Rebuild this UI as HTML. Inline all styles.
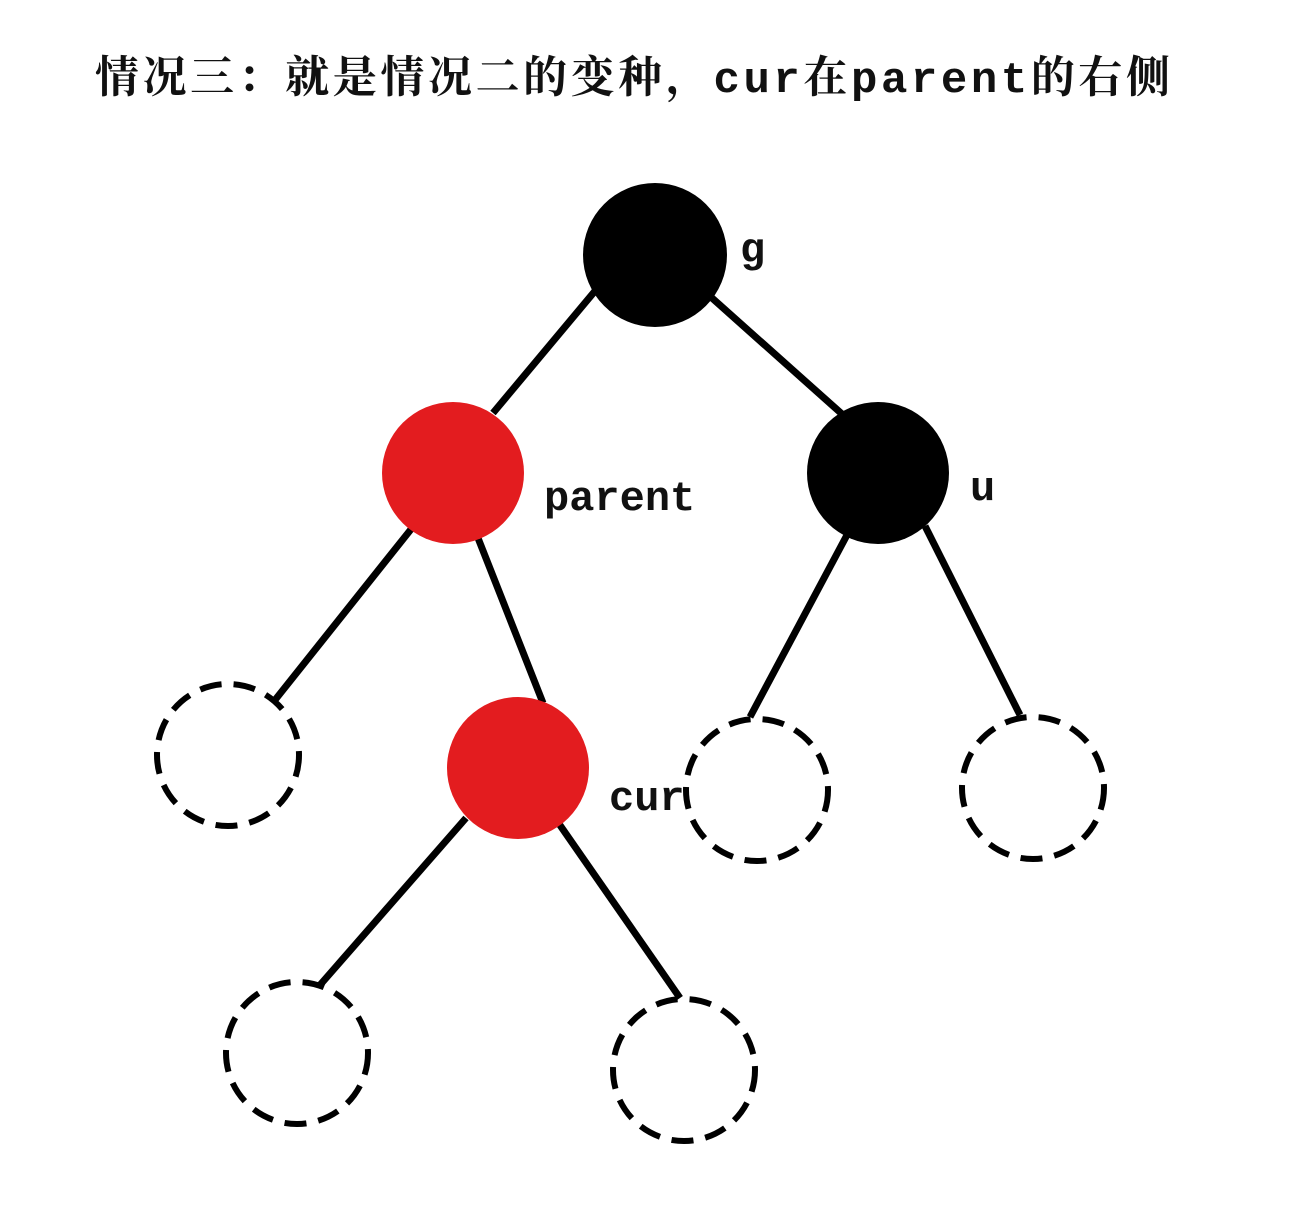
<!DOCTYPE html>
<html><head><meta charset="utf-8"><style>
html,body{margin:0;padding:0;background:#fff;}
svg{display:block;}
text{font-family:"Liberation Mono","Noto Serif CJK SC","Noto Sans CJK SC",serif;font-weight:bold;fill:#111;}
.t{font-family:"Noto Serif CJK SC","Noto Sans CJK SC",serif;}
.m{font-family:"Liberation Mono",monospace;}
</style></head><body>
<svg width="1302" height="1224" viewBox="0 0 1302 1224" xmlns="http://www.w3.org/2000/svg">
<rect width="1302" height="1224" fill="#fff"/>
<text class="t" x="95" y="92" font-size="44" textLength="1075" lengthAdjust="spacing">情况三：就是情况二的变种，<tspan class="m">cur</tspan>在<tspan class="m">parent</tspan>的右侧</text>
<g stroke="#000" stroke-width="7" stroke-linecap="butt">
<line x1="600" y1="285" x2="493" y2="413"/>
<line x1="712" y1="298" x2="842" y2="414"/>
<line x1="412" y1="528" x2="275" y2="700"/>
<line x1="478" y1="538" x2="543" y2="703"/>
<line x1="847" y1="535" x2="750" y2="717"/>
<line x1="925" y1="526" x2="1020" y2="715"/>
<line x1="466" y1="818" x2="320" y2="985"/>
<line x1="555" y1="818" x2="680" y2="998"/>
</g>
<circle cx="655" cy="255" r="72" fill="#000"/>
<circle cx="453" cy="473" r="71" fill="#e31c1f"/>
<circle cx="878" cy="473" r="71" fill="#000"/>
<circle cx="518" cy="768" r="71" fill="#e31c1f"/>
<g fill="none" stroke="#000" stroke-width="6" stroke-dasharray="22 12">
<circle cx="228" cy="755" r="71"/>
<circle cx="757" cy="790" r="71"/>
<circle cx="1033" cy="788" r="71"/>
<circle cx="297" cy="1053" r="71"/>
<circle cx="684" cy="1070" r="71"/>
</g>
<text x="740" y="262" font-size="42">g</text>
<text x="544" y="510" font-size="42">parent</text>
<text x="970" y="500" font-size="42">u</text>
<text x="609" y="810" font-size="42">cur</text>
</svg>
</body></html>
